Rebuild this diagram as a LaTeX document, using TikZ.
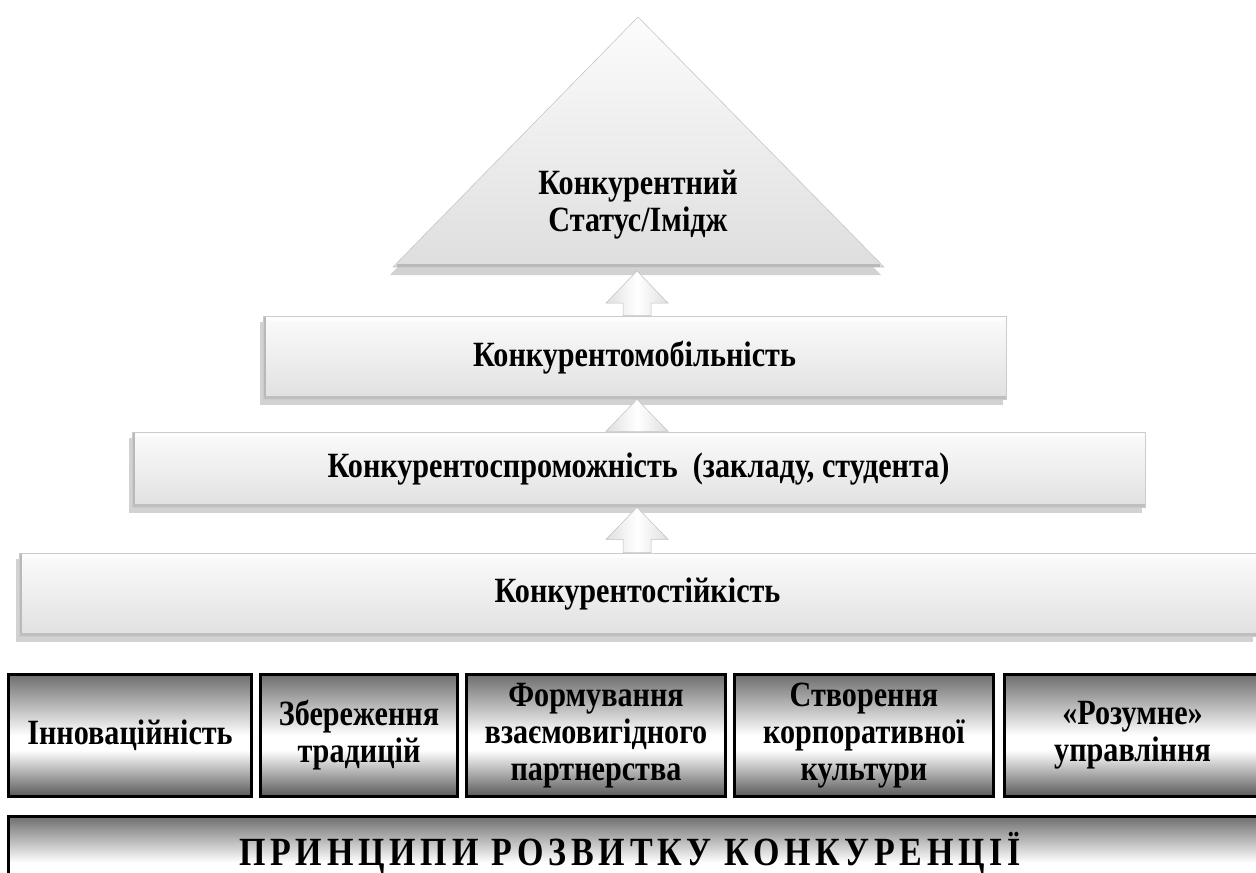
\documentclass[tikz,border=0pt]{standalone}
\usepackage{fontspec}
\setmainfont{Liberation Serif}[BoldFont={Liberation Serif Bold}]
\newfontfamily\titlefont{Liberation Serif Bold}[LetterSpace=12, FakeStretch=0.85]
\newfontfamily\boxfont{Liberation Serif Bold}[FakeStretch=0.85]
\usetikzlibrary{shadows,calc}
\definecolor{mtop}{HTML}{6E6E6E}
\definecolor{mbot}{HTML}{595959}
\pgfdeclareverticalshading{metal}{100bp}{color(0bp)=(mbot); color(25bp)=(mbot); color(44bp)=(white); color(50bp)=(white); color(75bp)=(mtop); color(100bp)=(mtop)}
\tikzset{
  txt/.style={font=\boxfont\fontsize{35.5}{37}\selectfont, align=center, text=black},
  lbox/.style={txt, draw=gray!40, line width=0.6pt, top color=gray!3, bottom color=gray!24,
    drop shadow={shadow xshift=-3pt, shadow yshift=-6pt, fill=gray!50, opacity=0.7},
    path picture={
      \fill[gray!55] (path picture bounding box.south west) rectangle ([xshift=2.5pt]path picture bounding box.north west);
      \fill[gray!50] (path picture bounding box.south west) rectangle ([yshift=3pt]path picture bounding box.south east);
      \fill[white,opacity=.7] ([xshift=2.5pt]path picture bounding box.north west) rectangle ([yshift=-5pt]path picture bounding box.north east);
    }},
  dbox/.style={txt, draw=black, line width=3pt, shading=metal, minimum height=122pt},
  barrowstyle/.style={draw=gray!50, line width=0.5pt, left color=gray!25, right color=gray!25, middle color=white},
  tristyle/.style={draw=gray!45, line width=0.6pt, top color=gray!2, bottom color=gray!26}
}
\newcommand\blockarrowup[3]{%
  \path (#3,0 |- #1.north) coordinate (tmpb) (#3,0 |- #2) coordinate (tmpt);
  \draw[barrowstyle] ($(tmpb)+(-14,0)$) -- ($(tmpt)+(-14,32)$) -- ($(tmpt)+(-31,32)$) -- (tmpt)
    -- ($(tmpt)+(31,32)$) -- ($(tmpt)+(14,32)$) -- ($(tmpb)+(14,0)$) -- cycle;}
\begin{document}
\begin{tikzpicture}[x=1pt,y=-1pt]
\useasboundingbox (0,0) rectangle (1256,873);
\clip (0,0) rectangle (1256,873);
% pyramid top
\coordinate (apex) at (638,17);
\coordinate (tl) at (393,267);
\coordinate (tr) at (884,267);
\coordinate (tribase) at (638,271);
\fill[gray!50, opacity=0.7] ($(apex)+(-3,8)$) -- ($(tr)+(-3,8)$) -- ($(tl)+(-3,8)$) -- cycle;
\draw[tristyle] (apex) -- (tr) -- (tl) -- cycle;
\draw[gray!55, line width=2.5pt] ($(tl)+(4,-1.5)$) -- ($(tr)+(-4,-1.5)$);
\node[txt] (tri) at (638,205) {Конкурентний\\Статус/Імідж};
% levels
\node[lbox, minimum width=743pt, minimum height=83pt] (b1) at (634.5,357.5) {Конкурентомобільність};
\node[lbox, minimum width=1013pt, minimum height=75pt] (b2) at (638.5,469.5) {Конкурентоспроможність~ (закладу, студента)};
\node[lbox, minimum width=1237pt, minimum height=83pt] (b3) at (637.5,594.5) {Конкурентостійкість};
% arrows
\blockarrowup{b1}{tribase}{637}
\blockarrowup{b2}{b1.south}{637}
\blockarrowup{b3}{b2.south}{637}
% principles
\node[dbox, minimum width=243pt] (p1) at (130,735.5) {Інноваційність};
\node[dbox, minimum width=197pt] (p2) at (359,735.5) {Збереження\\традицій};
\node[dbox, minimum width=259pt] (p3) at (596,735.5) {Формування\\взаємовигідного\\партнерства};
\node[dbox, minimum width=259pt] (p4) at (864,735.5) {Створення\\корпоративної\\культури};
\node[dbox, minimum width=256pt] (p5) at (1132.5,735.5) {«Розумне»\\управління};
\node[draw=black, line width=3pt, shading=metal, minimum width=1252pt, minimum height=92pt] (base) at (634.5,862.5) {};
\node[font=\titlefont\fontsize{40}{42}\selectfont, anchor=base] (title) at (630,865) {ПРИНЦИПИ РОЗВИТКУ КОНКУРЕНЦІЇ};
\end{tikzpicture}
\end{document}
